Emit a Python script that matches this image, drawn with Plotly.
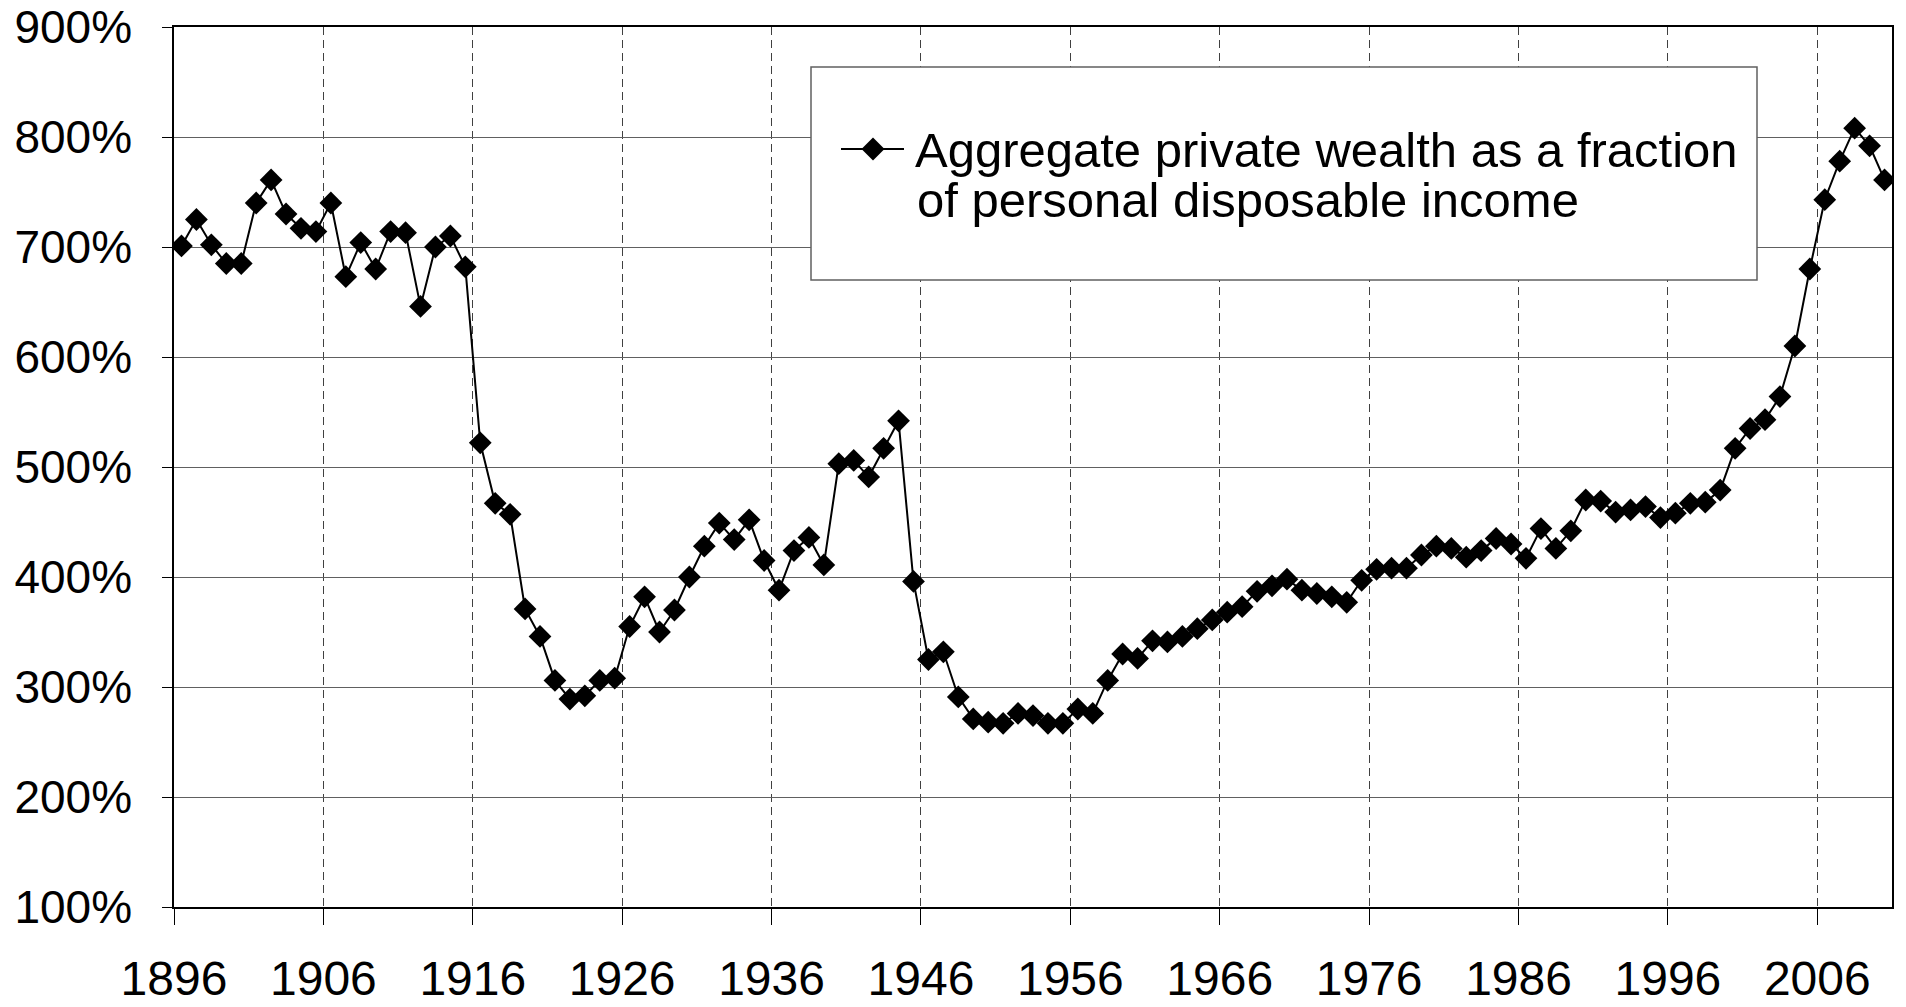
import plotly.graph_objects as go

# ---------------- data ----------------
years = list(range(1896, 2011))
wealth_pct = [
    701, 725, 702, 685, 685, 740, 761, 730, 717, 714,   # 1896-1905
    740, 673, 704, 680, 714, 713, 646, 700, 710, 682,   # 1906-1915
    522, 467, 457, 371, 346, 306, 289, 292, 306, 308,   # 1916-1925
    355, 382, 350, 370, 400, 428, 449, 434, 452, 415,   # 1926-1935
    388, 424, 436, 411, 503, 506, 491, 517, 542, 396,   # 1936-1945
    325, 332, 291, 271, 268, 267, 276, 274, 267, 267,   # 1946-1955
    280, 276, 306, 330, 326, 342, 341, 346, 353, 361,   # 1956-1965
    368, 373, 387, 392, 398, 388, 385, 382, 377, 397,   # 1966-1975
    407, 408, 408, 420, 428, 426, 418, 424, 435, 430,   # 1976-1985
    417, 444, 426, 442, 470, 469, 459, 461, 464, 454,   # 1986-1995
    458, 467, 468, 479, 517, 535, 543, 564, 610, 680,   # 1996-2005
    743, 778, 808, 792, 761,                             # 2006-2010
]
assert len(years) == len(wealth_pct)

tick_labels = ["1896", "1906", "1916", "1926", "1936", "1946",
               "1956", "1966", "1976", "1986", "1996", "2006"]
y_ticks = [100, 200, 300, 400, 500, 600, 700, 800, 900]
series_name = ["Aggregate private wealth as a fraction", "of personal disposable income"]

# ---------------- layout geometry ----------------
# The page body has an 8px default margin, so the figure starts at (8, 8).
OFF = 8
W, H = 1906 - OFF, 1007 - OFF
ML, MR, MT, MB = 174 - OFF, 14, 27 - OFF, 100
PW, PH = W - ML - MR, H - MT - MB
PLOT_L, PLOT_B = 174, 907   # page pixels of plot-area left / bottom


def px_x(px):
    return (px - PLOT_L) / PW


def px_y(py):
    return (PLOT_B - py) / PH


FONT = "Liberation Sans, Arial, sans-serif"

fig = go.Figure()
fig.add_trace(go.Scatter(
    x=years, y=wealth_pct, mode="lines+markers",
    line=dict(color="black", width=2),
    marker=dict(symbol="diamond", size=17.5, color="black"),
    showlegend=False, hoverinfo="x+y",
))

tick_pos = [int(t) - 0.5 for t in tick_labels]

fig.update_xaxes(
    range=[years[0] - 0.5, years[-1] + 0.5],
    tickmode="array", tickvals=tick_pos, ticktext=tick_labels,
    ticks="outside", ticklen=16, tickwidth=1, tickcolor="black",
    showgrid=True, gridcolor="#404040", gridwidth=1, griddash="8px,5px",
    showline=True, linecolor="black", linewidth=2, mirror=True,
    tickfont=dict(family=FONT, size=48, color="black"),
    ticklabelstandoff=12, automargin=False, ticklabeloverflow="allow",
    zeroline=False,
)
fig.update_yaxes(
    range=[100, 900], tickmode="array", tickvals=y_ticks,
    ticktext=[f"{v}%" for v in y_ticks],
    ticks="outside", ticklen=10, tickwidth=1, tickcolor="black",
    showgrid=True, gridcolor="#606060", gridwidth=1.2,
    showline=True, linecolor="black", linewidth=1.5, mirror=True,
    tickfont=dict(family=FONT, size=46, color="black"),
    ticklabelstandoff=21, automargin=False, ticklabeloverflow="allow",
    zeroline=False,
)

# ---------------- manual legend ----------------
shapes = []
shapes.append(dict(type="rect", xref="paper", yref="paper",
                   x0=px_x(811), x1=px_x(1757), y0=px_y(280), y1=px_y(67),
                   line=dict(color="#606060", width=1.5), fillcolor="white", layer="above"))
ly = 149
shapes.append(dict(type="line", xref="paper", yref="paper",
                   x0=px_x(841), x1=px_x(904), y0=px_y(ly), y1=px_y(ly),
                   line=dict(color="black", width=2), layer="above"))
cx, r = 873, 11.5
path = (f"M {px_x(cx - r)} {px_y(ly)} L {px_x(cx)} {px_y(ly - r)} "
        f"L {px_x(cx + r)} {px_y(ly)} L {px_x(cx)} {px_y(ly + r)} Z")
shapes.append(dict(type="path", xref="paper", yref="paper", path=path,
                   fillcolor="black", line=dict(color="black", width=0), layer="above"))

annotations = []
for i, txt in enumerate(series_name):
    baseline = 167 + 50 * i
    annotations.append(dict(
        xref="paper", yref="paper", x=px_x(914 + 2 * i), y=px_y(baseline - 17),
        xanchor="left", yanchor="middle", showarrow=False, text=txt,
        font=dict(family=FONT, size=49, color="black"), borderpad=0,
    ))

fig.update_layout(
    width=W, height=H,
    margin=dict(l=ML, r=MR, t=MT, b=MB, pad=0, autoexpand=False),
    paper_bgcolor="white", plot_bgcolor="white",
    shapes=shapes, annotations=annotations,
    showlegend=False,
    font=dict(family=FONT, color="black"),
)

fig.write_html("out.html")
